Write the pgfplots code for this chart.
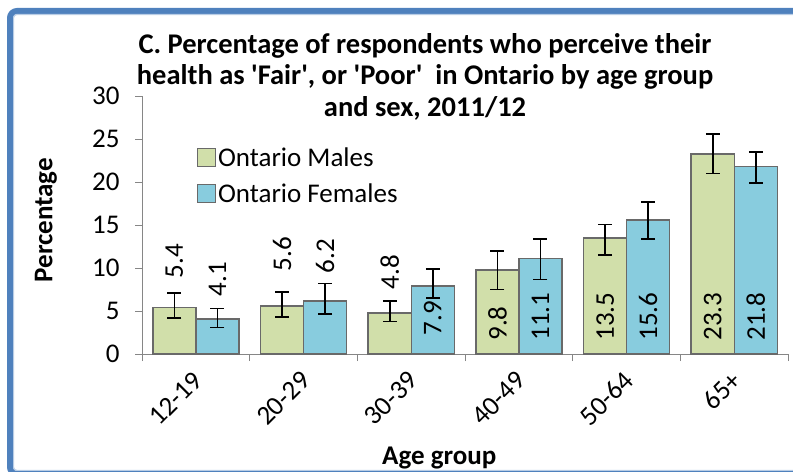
\documentclass[border=0pt]{standalone}
\usepackage{pgfplots}
\pgfplotsset{compat=1.18}
\usepackage{pgfplotstable}
\usepackage{fontspec}
\setmainfont{Carlito}

\definecolor{malefill}{RGB}{209,223,170}
\definecolor{femalefill}{RGB}{136,204,222}
\definecolor{barline}{RGB}{105,105,105}
\definecolor{axisgray}{RGB}{134,134,134}
\definecolor{frameblue}{RGB}{79,129,189}
\definecolor{framelight}{RGB}{185,205,229}

% x = category, m/f = value, mp/mm fp/fm = error +/-, mly/fly = label position
\pgfplotstableread{
x  m     mp   mm   f     fp   fm   mly   fly
0  5.4   1.7  1.2  4.1   1.2  1.0  8.8   6.7
1  5.6   1.6  1.3  6.2   2.0  1.5  9.6   9.4
2  4.8   1.4  1.0  7.9   2.0  1.4  7.5   2.2
3  9.8   2.2  2.3  11.1  2.3  2.4  1.55  1.55
4  13.5  1.6  2.0  15.6  2.1  2.2  1.55  1.55
5  23.3  2.3  2.3  21.8  1.7  1.9  1.55  1.55
}\agedata

\newcommand{\fs}{\fontsize{27bp}{32bp}\selectfont}

\begin{document}
\begin{tikzpicture}[x=1bp,y=1bp]
\useasboundingbox (0,0) rectangle (793,472);
\begin{scope}
\clip (0,0) rectangle (793,472);
\draw[frameblue, line width=6bp, rounded corners=7bp] (10,-2) rectangle (820,461);
\draw[framelight, line width=1.2bp, rounded corners=3bp] (13.6,1.6) rectangle (820,457.4);
\end{scope}
\begin{axis}[
  at={(132,137)}, anchor=south west,
  scale only axis, width=646bp, height=258bp,
  xmin=-0.5, xmax=5.5, ymin=0, ymax=30,
  axis lines*=left,
  axis line style={axisgray, line width=1bp},
  tick style={axisgray, line width=1bp},
  tick align=outside,
  major tick length=7bp, minor tick length=7bp,
  ytick={0,5,...,30},
  xtick={0,...,5},
  xticklabels={12-19,20-29,30-39,40-49,50-64,65+},
  major x tick style={draw=none},
  minor xtick={-0.5,0.5,...,5.5},
  /pgf/number format/assume math mode=true,
  ticklabel style={font=\fs, black},
  yticklabel style={xshift=-12bp},
  xticklabel style={rotate=45, anchor=east, inner sep=0pt, xshift=-9bp, yshift=-12bp},
  title={C. Percentage of respondents who perceive their\\health as \textquotesingle Fair\textquotesingle, or \textquotesingle Poor\textquotesingle\ \ in Ontario by age group\\and sex, 2011/12},
  title style={at={(axis description cs:0.438,1.052)}, anchor=center, align=center,
    font=\bfseries\fontsize{28.5bp}{31.5bp}\selectfont},
  xlabel={Age group},
  xlabel style={at={(axis description cs:0.46,-0.403)}, anchor=center, font=\bfseries\fs},
  ylabel={Percentage},
  ylabel style={at={(axis description cs:-0.149,0.519)}, anchor=center, rotate=0, font=\bfseries\fs},
  legend style={at={(axis description cs:0.084,0.81)}, anchor=north west,
    draw=none, fill=none, font=\fs, inner sep=0pt, row sep=12bp,
    /tikz/every even column/.append style={column sep=5bp}},
  legend cell align=left,
  legend image code/.code={\draw[#1] (0bp,-9bp) rectangle (18bp,9bp);},
  error bars/error bar style={black, line width=1.6bp},
  error bars/error mark options={black, rotate=90, mark size=7bp, line width=1.6bp},
]
\addplot[ybar, bar width=43.07bp, bar shift=-21.53bp, fill=malefill, draw=barline, line width=1.5bp]
  table[x=x, y=m] {\agedata};
\addlegendentry{Ontario Males}
\addplot[ybar, bar width=43.07bp, bar shift=21.53bp, fill=femalefill, draw=barline, line width=1.5bp]
  table[x=x, y=f] {\agedata};
\addlegendentry{Ontario Females}
% error bars at the bar centres
\addplot[draw=none, mark=none, forget plot, error bars/.cd, y dir=both, y explicit]
  table[x expr=\thisrow{x}-0.2, y=m, y error plus=mp, y error minus=mm] {\agedata};
\addplot[draw=none, mark=none, forget plot, error bars/.cd, y dir=both, y explicit]
  table[x expr=\thisrow{x}+0.2, y=f, y error plus=fp, y error minus=fm] {\agedata};
% value labels
\addplot[draw=none, mark=none, forget plot, point meta=explicit,
  nodes near coords, nodes near coords style={rotate=90, anchor=west, inner sep=0pt, font=\fs, black},
  /pgf/number format/.cd, fixed, precision=1, fixed zerofill]
  table[x expr=\thisrow{x}-0.2, y=mly, meta=m] {\agedata};
\addplot[draw=none, mark=none, forget plot, point meta=explicit,
  nodes near coords, nodes near coords style={rotate=90, anchor=west, inner sep=0pt, font=\fs, black},
  /pgf/number format/.cd, fixed, precision=1, fixed zerofill]
  table[x expr=\thisrow{x}+0.2, y=fly, meta=f] {\agedata};
\end{axis}
\end{tikzpicture}
\end{document}
